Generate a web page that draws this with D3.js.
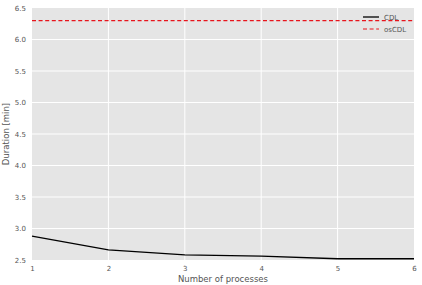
<!DOCTYPE html>
<html><head><meta charset="utf-8">
<script src="https://cdn.jsdelivr.net/npm/d3@7"></script>
<style>body{margin:0;background:#fff}svg{display:block}</style>
</head><body><svg id="c" width="422" height="285"></svg>
<script>
const processes = [1, 2, 3, 4, 5, 6];
const cdl = [2.88, 2.66, 2.58, 2.56, 2.52, 2.52];
const oscdl = [6.3, 6.3, 6.3, 6.3, 6.3, 6.3];
const yTicks = [2.5, 3.0, 3.5, 4.0, 4.5, 5.0, 5.5, 6.0, 6.5];
const seriesNames = ["CDL", "osCDL"];

const svg = d3.select("#c");
const m = {l: 32, r: 8, t: 8, b: 25};
const W = 422, H = 285;
const x = d3.scaleLinear().domain([1, 6]).range([m.l, W - m.r]);
const y = d3.scaleLinear().domain([2.5, 6.5]).range([H - m.b, m.t]);
const font = "DejaVu Sans, sans-serif";

svg.append("rect").attr("x", x(1)).attr("y", y(6.5)).attr("width", x(6) - x(1)).attr("height", y(2.5) - y(6.5)).attr("fill", "#e5e5e5");

const gx = svg.append("g").attr("transform", `translate(0,${y(2.5)})`)
  .call(d3.axisBottom(x).tickValues(processes).tickFormat(d3.format("d")).tickSize(0).tickPadding(6));
const gy = svg.append("g").attr("transform", `translate(${x(1)},0)`)
  .call(d3.axisLeft(y).tickValues(yTicks).tickFormat(d3.format(".1f")).tickSize(0).tickPadding(6));
[gx, gy].forEach(g => {
  g.select(".domain").remove();
  g.selectAll("text").attr("fill", "#555").style("font-family", font).style("font-size", "7px");
});

// grid
svg.append("g").selectAll("line").data(processes.slice(1, -1)).join("line")
  .attr("x1", d => x(d)).attr("x2", d => x(d)).attr("y1", y(6.5)).attr("y2", y(2.5))
  .attr("stroke", "#fff").attr("stroke-width", 1);
svg.append("g").selectAll("line").data(yTicks.slice(1, -1)).join("line")
  .attr("x1", x(1)).attr("x2", x(6)).attr("y1", d => y(d)).attr("y2", d => y(d))
  .attr("stroke", "#fff").attr("stroke-width", 1);

const line = d3.line().x((d, i) => x(processes[i])).y(d => y(d));
svg.append("path").datum(cdl).attr("d", line).attr("fill", "none").attr("stroke", "#000").attr("stroke-width", 1.3);
svg.append("path").datum(oscdl).attr("d", line).attr("fill", "none").attr("stroke", "#e8141c").attr("stroke-width", 1.2).attr("stroke-dasharray", "4,2.6");

// legend
const lg = svg.append("g");
const styles = [{c: "#000", d: null, w: 1.3}, {c: "#e8141c", d: "4,2.6", w: 1.2}];
seriesNames.forEach((n, i) => {
  const yy = 17 + i * 12;
  lg.append("line").attr("x1", 363).attr("x2", 379).attr("y1", yy).attr("y2", yy)
    .attr("stroke", styles[i].c).attr("stroke-width", styles[i].w).attr("stroke-dasharray", styles[i].d);
  lg.append("text").attr("x", 384).attr("y", yy + 2.5).text(n)
    .attr("fill", "#555").style("font-family", font).style("font-size", "7px");
});

svg.append("text").attr("x", (x(1) + x(6)) / 2).attr("y", 282).attr("text-anchor", "middle")
  .text("Number of processes").attr("fill", "#555").style("font-family", font).style("font-size", "8.5px");
svg.append("text").attr("transform", `translate(9,${(y(2.5) + y(6.5)) / 2}) rotate(-90)`).attr("text-anchor", "middle")
  .text("Duration [min]").attr("fill", "#555").style("font-family", font).style("font-size", "8.5px");
</script></body></html>
